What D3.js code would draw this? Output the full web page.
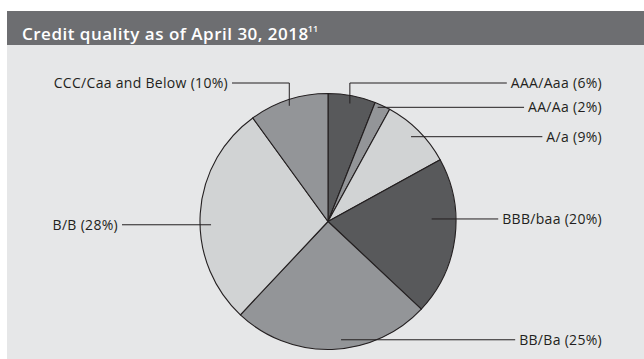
<!DOCTYPE html>
<html>
<head>
<meta charset="utf-8">
<script src="https://cdn.jsdelivr.net/npm/d3@7"></script>
<style>
  html, body { margin: 0; padding: 0; background: #ffffff; }
  svg { display: block; }
  text { font-family: "Open Sans", "Noto Sans", sans-serif; }
</style>
</head>
<body>
<svg id="chart" width="644" height="359"></svg>
<script>
// Credit quality breakdown (percent of portfolio), clockwise from 12 o'clock
const categories = ["AAA/Aaa", "AA/Aa", "A/a", "BBB/baa", "BB/Ba", "B/B", "CCC/Caa and Below"];
const shares = [6, 2, 9, 20, 25, 28, 10];
const fills = ["#58595b", "#939598", "#d1d3d4", "#58595b", "#939598", "#d1d3d4", "#939598"];

const titleText = "Credit quality as of April 30, 2018";
const titleNote = "11";

// Label placement: side, leader anchor angle (deg, clockwise from top), anchor radius,
// label row y (for elbow leaders), text edge x
const labelLayout = [
  { side: "right", angle: 10.5, radius: 120, elbow: true,  rowY: 83,  textX: 602 },
  { side: "right", angle: 23.5, radius: 124.5, elbow: false, textX: 602 },
  { side: "right", angle: 44.4, radius: 118.7, elbow: false, textX: 602 },
  { side: "right", angle: 88.6, radius: 103.7, elbow: false, textX: 602 },
  { side: "right", angle: 173.7, radius: 119, elbow: false, textX: 602 },
  { side: "left",  angle: 268.4, radius: 117, elbow: false, textX: 118 },
  { side: "left",  angle: 341.5, radius: 122, elbow: true,  rowY: 83,  textX: 228 }
];

const svg = d3.select("#chart");
const W = 644, H = 359;

// Panel background and title band
svg.append("rect").attr("x", 7).attr("y", 45).attr("width", W - 7).attr("height", H - 45).attr("fill", "#e6e7e8");
svg.append("rect").attr("x", 7).attr("y", 11).attr("width", W - 7).attr("height", 34).attr("fill", "#6d6e71");

const title = svg.append("text")
  .attr("x", 22).attr("y", 39.5)
  .attr("fill", "#ffffff")
  .attr("font-size", 17)
  .attr("font-weight", 600)
  .attr("letter-spacing", 0.5)
  .text(titleText);
title.append("tspan")
  .attr("font-size", 9)
  .attr("dy", -8)
  .attr("dx", -1)
  .attr("letter-spacing", 0)
  .text(titleNote);

// Pie
const cx = 328, cy = 221.5, R = 128;
const data = categories.map((c, i) => ({ name: c, value: shares[i], fill: fills[i] }));
const pie = d3.pie().value(d => d.value).sort(null);
const arc = d3.arc().innerRadius(0).outerRadius(R);
const arcs = pie(data);

const g = svg.append("g").attr("transform", `translate(${cx},${cy})`);
g.selectAll("path.slice")
  .data(arcs)
  .join("path")
  .attr("class", "slice")
  .attr("d", arc)
  .attr("fill", d => d.data.fill)
  .attr("stroke", "#231f20")
  .attr("stroke-width", 1.1)
  .attr("stroke-linejoin", "round");

// Labels with leader lines
const rad = Math.PI / 180;
const labels = svg.append("g");
arcs.forEach((a, i) => {
  const L = labelLayout[i];
  const px = cx + L.radius * Math.sin(L.angle * rad);
  const py = cy - L.radius * Math.cos(L.angle * rad);
  const rowY = L.elbow ? L.rowY : py;
  const label = `${a.data.name} (${a.data.value}%)`;

  const t = labels.append("text")
    .attr("x", L.textX)
    .attr("y", rowY)
    .attr("dy", "0.36em")
    .attr("text-anchor", "end")
    .attr("font-size", 14)
    .attr("letter-spacing", 0.3)
    .attr("fill", "#231f20")
    .text(label);
  const tw = t.node().getComputedTextLength();

  let pts;
  if (L.side === "right") {
    const endX = L.textX - tw - 4;
    pts = L.elbow ? [[px, py], [px, rowY], [endX, rowY]] : [[px, py], [endX, rowY]];
  } else {
    const endX = L.textX + 4;
    pts = L.elbow ? [[px, py], [px, rowY], [endX, rowY]] : [[px, py], [endX, rowY]];
  }
  labels.append("path")
    .attr("d", d3.line()(pts))
    .attr("fill", "none")
    .attr("stroke", "#231f20")
    .attr("stroke-width", 1);
});
</script>
</body>
</html>
